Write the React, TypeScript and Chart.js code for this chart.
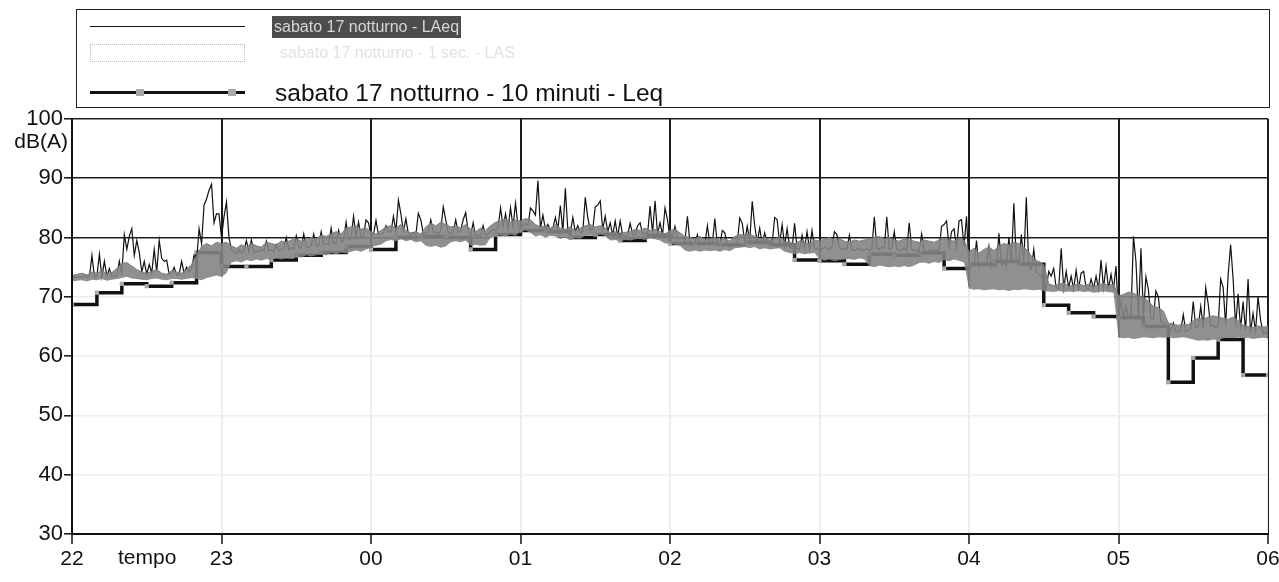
import React, { useEffect, useRef } from "react";
import { Chart, registerables } from "chart.js";

Chart.register(...registerables);

// Time axis: minutes after 22:00 (0..480)
const hourLabels = ["22", "23", "00", "01", "02", "03", "04", "05", "06"];
const yTickLabels = ["30", "40", "50", "60", "70", "80", "90", "100"];

const legendLabels = [
  "sabato 17 notturno - LAeq",
  "sabato 17 notturno - 1 sec. - LAS",
  "sabato 17 notturno - 10 minuti - Leq",
];

// gray band (fast level) upper / lower envelope, one value every 2 minutes
const lasHi = [
  73.6, 73.8, 74.0, 73.7, 74.2, 74.0, 74.4, 73.9, 74.1, 74.8, 75.6, 75.8, 75.2, 74.6, 74.2, 74.0, 74.3, 74.6, 74.0, 73.8, 74.4, 74.2, 74.0, 74.6, 75.5, 77.0, 78.5, 79.0, 78.6, 79.2,
  79.0, 79.2, 78.6, 78.2, 78.8, 78.4, 79.0, 78.6, 78.4, 79.2, 79.0, 78.8, 79.4, 79.2, 79.6, 79.8, 79.4, 79.6, 80.0, 79.8, 80.4, 80.2, 80.6, 81.0, 80.6, 81.6, 81.8, 82.0, 81.4, 81.6,
  81.0, 80.6, 81.2, 81.8, 82.0, 81.6, 82.2, 81.2, 80.8, 81.0, 80.6, 81.8, 82.4, 82.0, 82.6, 82.2, 81.8, 82.0, 81.6, 82.2, 81.4, 81.0, 81.6, 81.2, 82.0, 82.6, 82.8, 83.2, 82.6, 83.0,
  82.8, 83.2, 83.0, 82.2, 81.8, 82.0, 81.6, 82.2, 81.6, 81.4, 81.8, 81.2, 81.6, 82.0, 82.2, 81.8, 82.0, 81.6, 80.8, 81.0, 80.6, 80.9, 81.0, 81.4, 81.2, 81.6, 81.2, 81.4, 81.0, 80.6,
  81.2, 81.4, 80.8, 80.2, 80.0, 79.8, 80.2, 79.6, 79.8, 80.0, 79.6, 79.8, 79.4, 80.2, 80.5, 80.4, 80.6, 80.2, 79.8, 80.0, 79.6, 79.8, 80.0, 79.4, 79.2, 79.0, 79.4, 79.2, 79.0, 79.6,
  79.4, 79.8, 80.0, 79.6, 79.8, 79.4, 79.2, 79.6, 79.4, 79.6, 79.8, 80.0, 80.2, 79.8, 80.0, 79.6, 79.4, 79.8, 79.6, 79.4, 79.2, 79.6, 79.4, 79.2, 79.6, 79.8, 79.6, 79.4, 79.8, 79.6,
  77.6, 78.2, 77.4, 78.0, 78.4, 77.8, 78.6, 79.0, 78.8, 79.2, 79.0, 78.4, 77.6, 76.2, 76.0, 75.4, 72.2, 71.9, 72.1, 72.4, 71.8, 72.0, 72.2, 71.9, 72.1, 71.8, 72.0, 72.3, 71.9, 72.2,
  70.2, 70.4, 70.8, 70.6, 70.2, 70.0, 69.2, 68.4, 68.2, 67.6, 65.6, 65.4, 65.2, 65.4, 65.3, 66.0, 66.4, 66.2, 66.6, 66.8, 66.6, 66.4, 66.2, 66.6, 66.0, 65.2, 65.0, 64.8, 65.1, 64.9, 65.0,
];

const lasLo = [
  72.6, 72.7, 72.8, 72.6, 72.9, 72.8, 73.0, 72.7, 72.9, 73.0, 73.2, 73.4, 73.1, 73.0, 72.9, 72.8, 73.0, 73.1, 72.9, 72.8, 73.0, 73.0, 72.9, 73.0, 73.2, 73.0, 72.8, 73.2, 73.4, 73.6,
  73.4, 74.0, 75.8, 76.0, 75.8, 76.2, 76.0, 76.3, 76.1, 76.4, 76.2, 76.5, 76.3, 76.6, 76.4, 76.8, 76.6, 77.0, 76.8, 77.0, 77.2, 77.0, 77.4, 77.2, 77.5, 77.3, 77.6, 77.8, 77.6, 78.0,
  78.4, 78.6, 78.8, 79.4, 79.6, 79.4, 79.8, 79.4, 79.6, 79.2, 79.4, 78.6, 78.4, 78.6, 78.3, 78.5, 79.2, 79.4, 79.2, 79.5, 78.6, 78.8, 78.6, 78.7, 80.0, 80.2, 80.4, 80.2, 80.5, 80.3,
  81.0, 81.2, 80.8, 80.2, 80.4, 80.0, 80.3, 80.2, 79.8, 80.0, 79.6, 79.9, 79.8, 80.3, 80.4, 80.2, 80.5, 80.3, 79.5, 79.6, 79.4, 79.6, 79.5, 79.7, 79.8, 79.6, 79.9, 79.7, 79.5, 79.0,
  79.0, 78.8, 78.6, 77.8, 77.6, 77.8, 77.6, 77.8, 77.7, 77.8, 77.6, 77.9, 77.7, 78.2, 78.3, 78.4, 78.2, 78.4, 78.0, 78.2, 78.0, 78.1, 78.2, 77.6, 77.4, 77.2, 77.4, 77.2, 77.3, 77.4,
  76.4, 76.1, 76.3, 76.0, 76.2, 76.3, 76.4, 76.2, 76.5, 76.3, 75.2, 75.0, 75.3, 75.1, 75.0, 75.1, 75.0, 75.2, 75.0, 75.3, 75.7, 75.8, 75.6, 75.9, 75.7, 76.2, 76.0, 76.3, 76.1, 75.8,
  71.4, 71.2, 71.3, 71.1, 71.2, 71.3, 71.1, 71.2, 71.0, 71.2, 71.1, 71.3, 71.2, 71.1, 71.2, 71.0, 70.9, 70.8, 71.0, 70.8, 70.9, 70.8, 71.0, 70.8, 70.9, 70.7, 70.8, 70.9, 70.8, 70.7,
  63.2, 63.0, 63.1, 62.9, 63.0, 63.2, 63.1, 63.0, 63.2, 63.1, 63.2, 63.0, 63.1, 63.2, 63.0, 62.8, 62.6, 62.7, 62.6, 62.8, 62.7, 63.0, 63.1, 63.0, 63.2, 63.0, 63.1, 62.9, 63.0, 63.1, 63.0,
];

// black short LAeq, one value per minute
const laeq = [
  73.2, 73.4, 73.3, 73.5, 73.2, 73.6, 73.3, 73.4, 77.0, 73.3, 73.5, 77.2, 73.4, 76.0, 73.5, 74.8, 73.4, 73.6, 73.5, 76.0,
  74.0, 80.5, 78.0, 80.2, 81.5, 77.0, 79.5, 77.5, 74.2, 76.0, 73.8, 75.5, 74.0, 78.0, 74.2, 79.5, 76.5, 76.0, 76.2, 73.8,
  74.0, 75.0, 73.6, 73.8, 76.0, 74.0, 75.0, 74.2, 74.8, 77.0, 76.0, 81.5, 79.0, 85.5, 86.5, 88.0, 89.0, 82.5, 84.0, 84.0,
  80.0, 83.5, 86.0, 80.0, 78.0, 77.5, 77.2, 78.0, 77.4, 77.8, 79.5, 77.6, 79.6, 77.5, 77.8, 77.6, 78.0, 77.7, 79.4, 77.8,
  78.0, 77.6, 78.8, 77.8, 78.0, 78.2, 80.0, 78.0, 78.3, 78.1, 80.3, 78.4, 78.2, 80.6, 78.5, 78.3, 78.6, 80.6, 78.5, 78.7,
  81.0, 78.8, 79.0, 78.8, 81.6, 79.0, 79.2, 81.2, 79.3, 79.5, 82.6, 79.6, 80.0, 83.6, 80.2, 82.6, 80.0, 80.4, 83.0, 82.5,
  80.2, 80.5, 82.9, 80.4, 80.6, 80.8, 82.0, 81.0, 80.9, 83.6, 81.0, 86.3, 84.0, 81.0, 83.2, 80.6, 80.4, 80.8, 80.5, 84.1,
  83.0, 80.6, 80.8, 81.0, 83.0, 80.8, 81.0, 80.6, 81.2, 85.2, 83.0, 80.8, 80.6, 81.0, 83.0, 80.8, 81.2, 83.0, 84.2, 81.0,
  80.4, 82.5, 80.2, 80.5, 80.0, 82.0, 80.3, 80.6, 81.0, 81.4, 81.2, 81.6, 85.0, 81.8, 84.0, 81.5, 85.0, 81.8, 85.8, 82.0,
  81.8, 82.0, 82.4, 82.0, 85.0, 84.5, 83.8, 89.6, 81.6, 83.8, 81.4, 82.2, 81.2, 81.6, 83.4, 81.4, 85.4, 81.0, 88.3, 81.2,
  80.8, 83.4, 81.0, 82.0, 80.8, 81.0, 86.8, 83.4, 81.2, 81.4, 85.2, 85.5, 86.2, 81.4, 83.6, 81.0, 82.5, 80.4, 82.8, 80.2,
  82.8, 80.4, 80.2, 80.4, 82.4, 80.6, 80.4, 82.0, 82.5, 80.6, 80.8, 80.6, 85.3, 80.8, 86.2, 80.6, 82.5, 80.4, 85.0, 83.0,
  79.8, 80.2, 81.9, 80.0, 79.8, 80.0, 79.4, 83.6, 79.0, 78.8, 79.0, 80.5, 78.8, 79.0, 78.9, 82.0, 78.8, 79.0, 83.2, 78.8,
  78.7, 81.2, 80.8, 78.8, 78.6, 78.9, 79.0, 79.2, 83.3, 82.4, 79.3, 81.9, 79.4, 86.1, 82.0, 79.2, 81.6, 79.0, 80.8, 79.0,
  78.8, 79.0, 83.4, 83.0, 79.0, 82.2, 78.6, 81.5, 78.4, 78.2, 82.4, 78.2, 78.0, 80.4, 78.2, 81.0, 78.0, 81.2, 78.2, 78.0,
  78.2, 78.0, 78.4, 78.2, 78.0, 78.4, 81.0, 80.5, 78.2, 78.0, 78.2, 78.0, 80.4, 78.0, 77.8, 78.0, 78.2, 77.8, 78.0, 78.2,
  77.8, 78.0, 83.5, 78.2, 78.0, 78.4, 78.2, 83.5, 78.0, 78.2, 81.0, 78.0, 77.8, 78.0, 78.2, 77.8, 82.5, 78.0, 77.8, 78.0,
  77.6, 80.6, 77.8, 77.6, 77.8, 78.0, 77.6, 77.8, 78.0, 81.9, 82.2, 82.8, 78.4, 81.0, 81.5, 78.2, 82.8, 83.0, 78.4, 83.6,
  75.0, 75.4, 75.2, 79.5, 75.0, 75.6, 75.2, 75.4, 78.5, 75.0, 75.6, 75.2, 80.7, 75.4, 75.8, 75.2, 80.0, 75.6, 85.8, 76.0,
  75.4, 80.5, 75.8, 86.8, 75.2, 74.6, 78.0, 74.2, 73.8, 73.6, 72.0, 71.4, 74.3, 73.5, 74.8, 71.5, 71.3, 78.2, 71.4, 74.3,
  71.5, 73.5, 71.3, 74.5, 71.4, 74.0, 74.3, 71.5, 71.3, 73.0, 71.4, 73.5, 71.3, 76.2, 71.5, 75.2, 71.4, 73.8, 71.3, 75.2,
  66.8, 69.2, 66.4, 68.4, 66.6, 66.8, 80.2, 76.0, 66.6, 78.2, 66.8, 73.4, 71.2, 66.4, 66.2, 71.0, 70.0, 65.8, 65.6, 65.4,
  64.4, 64.2, 65.6, 64.0, 64.2, 64.4, 67.0, 64.2, 64.4, 64.6, 69.2, 64.8, 65.0, 68.4, 64.8, 71.6, 68.8, 65.0, 65.2, 64.8,
  65.0, 73.0, 71.6, 65.2, 73.7, 78.8, 73.0, 65.0, 70.5, 64.6, 69.2, 64.2, 73.0, 64.0, 67.2, 64.2, 70.0, 66.2, 63.8, 64.0,
  64.0,
];

// 10-minute Leq, one value per interval starting 22:00
const leq10 = [
  68.7, 70.7, 72.2, 71.8, 72.4, 77.5,
  75.1, 75.1, 76.2, 77.0, 77.5, 78.5,
  78.0, 80.0, 80.2, 80.0, 78.0, 80.5,
  81.2, 81.0, 80.0, 80.5, 79.5, 80.4,
  79.0, 79.0, 78.8, 79.2, 78.8, 76.2,
  76.1, 75.5, 77.2, 77.0, 77.4, 74.8,
  75.5, 76.0, 75.5, 68.6, 67.3, 66.7,
  66.5, 65.0, 55.6, 59.7, 62.8, 56.8,
];

const FONT = '"Liberation Sans", Arial, Helvetica, sans-serif';

const framePlugin = {
  id: "frameRedraw",
  afterDatasetsDraw(chart: any) {
    const { ctx, chartArea: a } = chart;
    ctx.save();
    ctx.strokeStyle = "#111";
    ctx.lineWidth = 2;
    ctx.beginPath();
    ctx.moveTo(a.left, a.top);
    ctx.lineTo(a.left, a.bottom);
    ctx.lineTo(a.right, a.bottom);
    ctx.stroke();
    ctx.restore();
  },
};

export default function App() {
  const ref = useRef<HTMLCanvasElement>(null);

  useEffect(() => {
    if (!ref.current) return;
    const hiPts = lasHi.map((y, i) => ({ x: i * 2, y }));
    const loPts = lasLo.map((y, i) => ({ x: i * 2, y }));
    const laeqPts = laeq.map((y, i) => ({ x: i, y }));
    const leqPts = leq10.map((y, i) => ({ x: i * 10, y }));
    leqPts.push({ x: leq10.length * 10, y: leq10[leq10.length - 1] });

    const chart = new Chart(ref.current, {
      type: "line",
      data: {
        datasets: [
          {
            label: legendLabels[1],
            data: hiPts,
            order: 1,
            borderColor: "rgba(120,120,120,0.9)",
            borderWidth: 1,
            backgroundColor: "rgba(132,132,132,0.9)",
            fill: 3,
            pointRadius: 0,
          },
          {
            label: legendLabels[0],
            data: laeqPts,
            order: 2,
            borderColor: "#111",
            borderWidth: 1.2,
            fill: false,
            pointRadius: 0,
          },
          {
            label: legendLabels[2],
            data: leqPts,
            order: 3,
            borderColor: "#111",
            borderWidth: 3.5,
            stepped: "before",
            fill: false,
            pointStyle: "rect",
            pointRadius: 3,
            pointBackgroundColor: "#a8a8a8",
            pointBorderWidth: 0,
          },
          {
            label: "lo",
            data: loPts,
            order: 4,
            borderColor: "rgba(0,0,0,0)",
            borderWidth: 0,
            backgroundColor: "rgba(255,255,255,0.92)",
            fill: "start",
            pointRadius: 0,
          },
        ],
      },
      options: {
        responsive: false,
        maintainAspectRatio: false,
        devicePixelRatio: 1,
        animation: false,
        events: [],
        layout: { padding: { left: 0, right: 11, top: 119, bottom: 0 } },
        plugins: {
          legend: { display: false },
          tooltip: { enabled: false },
        },
        scales: {
          x: {
            type: "linear",
            min: 0,
            max: 480,
            ticks: {
              stepSize: 60,
              autoSkip: false,
              maxRotation: 0,
              padding: 3,
              color: "#111",
              font: { family: FONT, size: 21 },
              callback: (v: any) => hourLabels[Math.round(Number(v) / 60)] ?? "",
            },
            grid: { color: "#1c1c1c", lineWidth: 2, tickLength: 10, tickColor: "#111", tickWidth: 1.5 },
            border: { display: true, color: "#111", width: 2 },
            afterFit: (s: any) => {
              s.height = 48;
              s.paddingLeft = 0;
              s.paddingRight = 0;
            },
          },
          y: {
            type: "linear",
            min: 30,
            max: 100,
            ticks: {
              stepSize: 10,
              padding: 1,
              color: "#111",
              font: { family: FONT, size: 22 },
              callback: (v: any) => yTickLabels[Math.round((Number(v) - 30) / 10)] ?? "",
            },
            grid: { color: "#1c1c1c", lineWidth: 1.6, tickLength: 8, tickColor: "#111", tickWidth: 1.5 },
            border: { display: true, color: "#111", width: 2 },
            afterFit: (s: any) => {
              s.width = 72;
              s.paddingTop = 0;
              s.paddingBottom = 0;
            },
          },
        },
      },
      plugins: [framePlugin],
    });
    return () => chart.destroy();
  }, []);

  const txt: React.CSSProperties = { position: "absolute", whiteSpace: "nowrap", fontFamily: FONT };

  return (
    <div style={{ position: "fixed", left: 0, top: 0, width: 1279, height: 582, background: "#fff", overflow: "hidden" }}>
      <canvas ref={ref} width={1279} height={582} style={{ position: "absolute", left: 0, top: 0, width: 1279, height: 582 }} />
      {/* legend box */}
      <div style={{ position: "absolute", left: 76, top: 9, width: 1194, height: 99, border: "1.5px solid #222", boxSizing: "border-box" }} />
      {/* row 1 */}
      <div style={{ position: "absolute", left: 90, top: 26, width: 155, height: 0, borderTop: "1.5px solid #111" }} />
      <div style={{ ...txt, left: 272, top: 16, height: 22, background: "#4d4d4d", color: "#d6d6d6", fontSize: 16, lineHeight: "22px", padding: "0 2px" }}>
        {legendLabels[0]}
      </div>
      {/* row 2 */}
      <div style={{ position: "absolute", left: 90, top: 44, width: 155, height: 18, border: "1px dotted #b8b8b8", boxSizing: "border-box" }} />
      <div style={{ ...txt, left: 280, top: 42, color: "#e2e2e2", fontSize: 16, lineHeight: "22px" }}>{legendLabels[1]}</div>
      {/* row 3 */}
      <div style={{ position: "absolute", left: 90, top: 91, width: 155, height: 3, background: "#111" }} />
      <div style={{ position: "absolute", left: 136, top: 89, width: 8, height: 7, background: "#a8a8a8" }} />
      <div style={{ position: "absolute", left: 228, top: 89, width: 8, height: 7, background: "#a8a8a8" }} />
      <div style={{ ...txt, left: 275, top: 79, color: "#111", fontSize: 24.5, lineHeight: "28px" }}>{legendLabels[2]}</div>
      {/* axis texts */}
      <div style={{ ...txt, left: 0, width: 68, textAlign: "right", top: 130, color: "#111", fontSize: 21, lineHeight: "21px" }}>dB(A)</div>
      <div style={{ ...txt, left: 118, top: 546, color: "#111", fontSize: 21, lineHeight: "22px" }}>tempo</div>
    </div>
  );
}
